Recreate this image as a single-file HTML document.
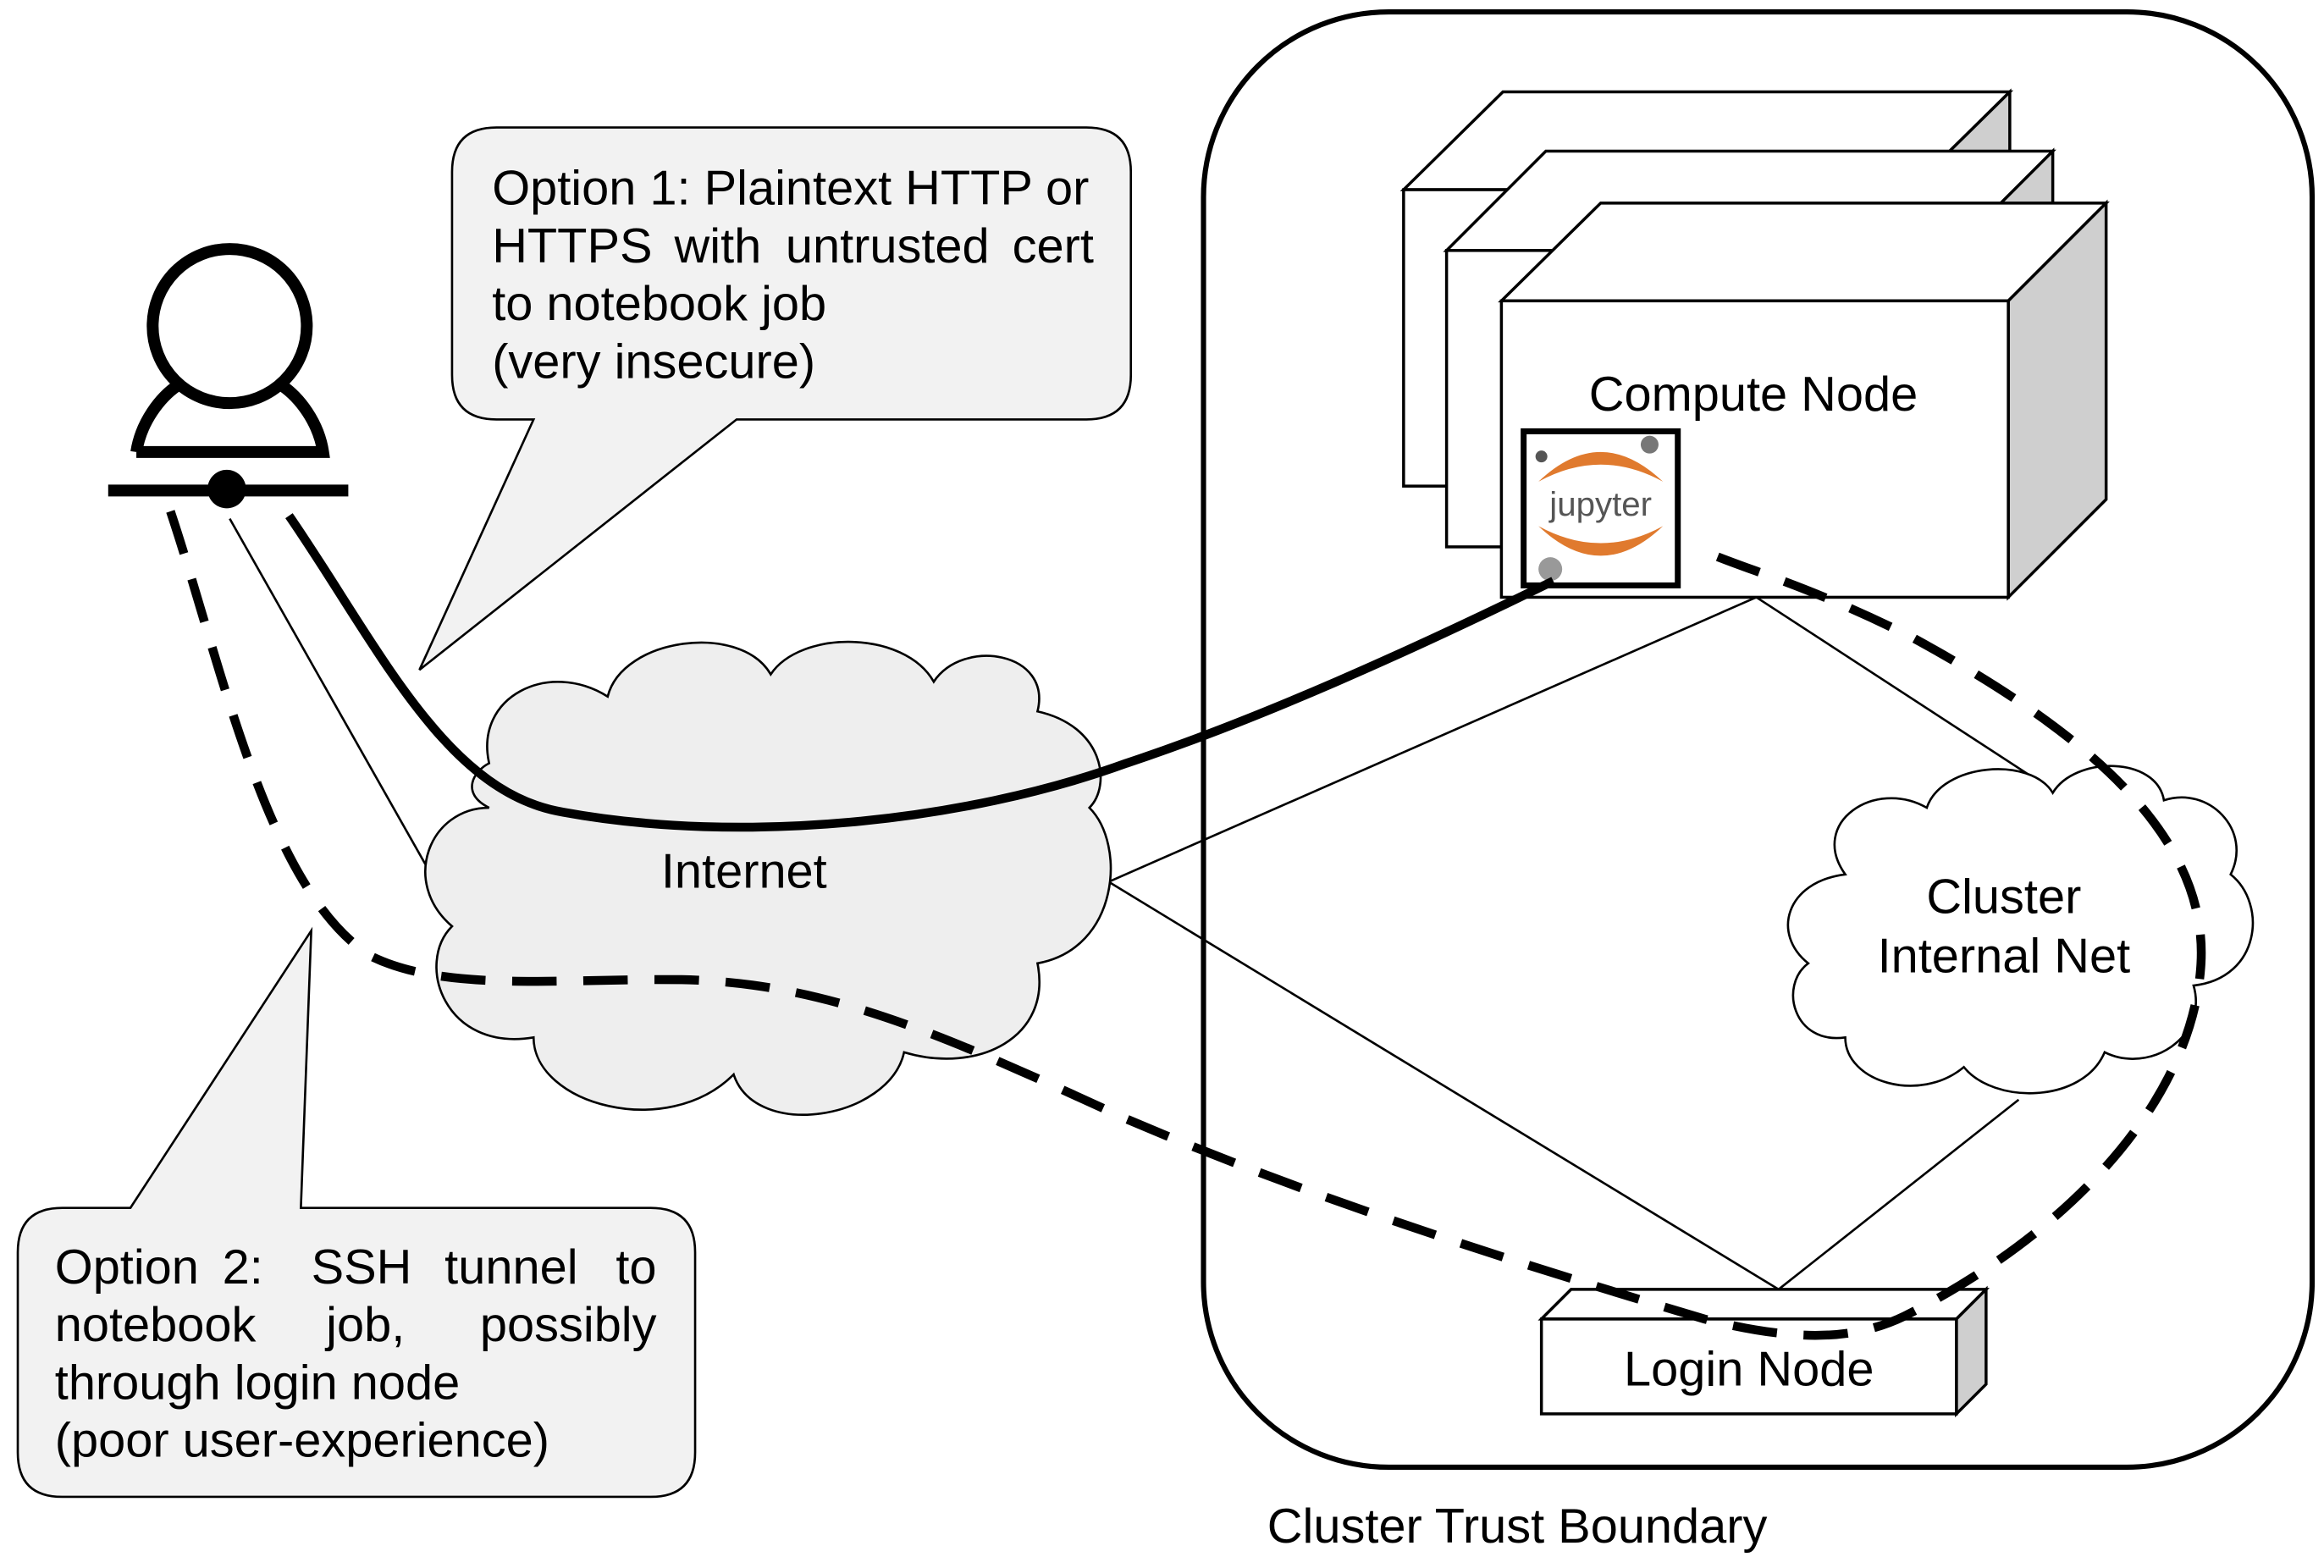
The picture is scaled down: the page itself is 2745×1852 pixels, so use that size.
<!DOCTYPE html>
<html><head><meta charset="utf-8"><style>
html,body{margin:0;padding:0;background:#fff;}
svg{display:block;}
text{font-family:"Liberation Sans",Arial,sans-serif;font-size:33px;fill:#000;}
</style></head><body>
<svg width="2745" height="1852" viewBox="0 0 1568 1058" preserveAspectRatio="none" xmlns="http://www.w3.org/2000/svg">
<rect x="812" y="8" width="748" height="982" rx="125" fill="#fff" stroke="#000" stroke-width="3.5"/>
<text x="855" y="1041">Cluster Trust Boundary</text>

<g stroke="#000" stroke-width="2">
<polygon points="947,128 1014,62 1356,62 1289,128" fill="#fff"/>
<polygon points="1289,128 1356,62 1356,262 1289,328" fill="#cfcfcf"/>
<rect x="947" y="128" width="342" height="200" fill="#fff"/>
<polygon points="976,169 1043,102 1385,102 1318,169" fill="#fff"/>
<polygon points="1318,169 1385,102 1385,302 1318,369" fill="#cfcfcf"/>
<rect x="976" y="169" width="342" height="200" fill="#fff"/>
<polygon points="1013,203 1080,137 1421,137 1355,203" fill="#fff"/>
<polygon points="1355,203 1421,137 1421,337 1355,403" fill="#cfcfcf"/>
<rect x="1013" y="203" width="342" height="200" fill="#fff"/>
</g>
<text x="1183" y="277" text-anchor="middle">Compute Node</text>
<rect x="1028" y="291" width="104" height="104" fill="#fff" stroke="#000" stroke-width="4"/>
<path d="M1038,325 Q1080,285 1122,325 Q1080,302 1038,325Z" fill="#e07a2e"/>
<path d="M1038,355 Q1080,395 1122,355 Q1080,378 1038,355Z" fill="#e07a2e"/>
<text x="1080" y="348" text-anchor="middle" style="font-size:23px;fill:#555">jupyter</text>
<circle cx="1113" cy="300" r="6" fill="#777"/>
<circle cx="1040" cy="308" r="4" fill="#555"/>
<circle cx="1046" cy="384" r="8" fill="#999"/>

<g stroke="#000" stroke-width="2">
<polygon points="1040,890 1060,870 1340,870 1320,890" fill="#fff"/>
<polygon points="1320,890 1340,870 1340,934 1320,954" fill="#cfcfcf"/>
<rect x="1040" y="890" width="280" height="64" fill="#fff"/>
</g>
<text x="1180" y="935" text-anchor="middle">Login Node</text>

<g stroke="#000" stroke-width="1.5" fill="none">
<line x1="748" y1="595" x2="1185" y2="403"/>
<line x1="748" y1="595" x2="1200" y2="870"/>
<line x1="1185" y1="403" x2="1380" y2="530"/>
<line x1="1200" y1="870" x2="1362" y2="742"/>
<line x1="155" y1="350" x2="292" y2="592"/>
</g>

<path d="M330,515 C320,470 370,445 410,470 C420,430 500,420 520,455 C540,425 610,425 630,460 C650,430 710,440 700,480 C745,490 750,530 735,545 C760,570 755,640 700,650 C710,700 660,725 610,710 C600,755 510,770 495,725 C450,770 360,745 360,700 C300,710 280,650 305,625 C270,595 290,545 330,545 C310,535 320,520 330,515Z" fill="#eeeeee" stroke="#000" stroke-width="1.5"/>
<text x="502" y="599" text-anchor="middle">Internet</text>

<path d="M1245,590 C1220,555 1265,525 1300,545 C1310,515 1370,510 1385,535 C1400,510 1455,510 1460,540 C1490,530 1520,560 1505,590 C1530,610 1525,660 1480,665 C1490,700 1450,725 1420,710 C1405,745 1345,745 1325,720 C1295,745 1245,730 1245,700 C1210,705 1200,665 1220,650 C1195,630 1205,595 1245,590Z" fill="#fff" stroke="#000" stroke-width="1.5"/>
<text x="1352" y="616" text-anchor="middle">Cluster</text>
<text x="1352" y="656" text-anchor="middle">Internal Net</text>

<path d="M195,348 C255,435 300,535 380,548 C500,570 650,555 760,515 C850,485 950,440 1048,392" fill="none" stroke="#000" stroke-width="6"/>

<path d="M115,345 C150,450 180,600 250,645 C300,670 380,660 460,661 C560,663 640,700 760,755 C900,815 1050,860 1150,890 C1210,905 1250,905 1285,888 C1400,830 1480,740 1485,650 C1490,560 1400,490 1290,430 C1220,395 1180,385 1150,372" fill="none" stroke="#000" stroke-width="6" stroke-dasharray="30,18"/>

<g stroke="#000" stroke-width="8" fill="none">
<circle cx="155" cy="220" r="52"/>
<path d="M92,305 C95,285 108,268 120,260 M190,260 C202,268 215,285 218,305 L92,305"/>
<line x1="73" y1="331" x2="235" y2="331"/>
</g>
<circle cx="153" cy="330" r="13" fill="#000"/>

<path d="M335,86 H733 Q763,86 763,116 V253 Q763,283 733,283 H497 L283,452 L360,283 H335 Q305,283 305,253 V116 Q305,86 335,86Z" fill="#f2f2f2" stroke="#000" stroke-width="1.5"/>
<text x="332" y="138">Option 1: Plaintext HTTP or</text>
<text x="332" y="177">HTTPS</text><text x="455" y="177">with</text><text x="530" y="177">untrusted</text><text x="738" y="177" text-anchor="end">cert</text>
<text x="332" y="216">to notebook job</text>
<text x="332" y="255">(very insecure)</text>

<path d="M42,815 H88 L210,628 L203,815 H439 Q469,815 469,845 V980 Q469,1010 439,1010 H42 Q12,1010 12,980 V845 Q12,815 42,815Z" fill="#f2f2f2" stroke="#000" stroke-width="1.5"/>
<text x="37" y="866">Option</text><text x="150" y="866">2:</text><text x="210" y="866">SSH</text><text x="300" y="866">tunnel</text><text x="443" y="866" text-anchor="end">to</text>
<text x="37" y="905">notebook</text><text x="220" y="905">job,</text><text x="443" y="905" text-anchor="end">possibly</text>
<text x="37" y="944">through login node</text>
<text x="37" y="983">(poor user-experience)</text>
</svg>
</body></html>
